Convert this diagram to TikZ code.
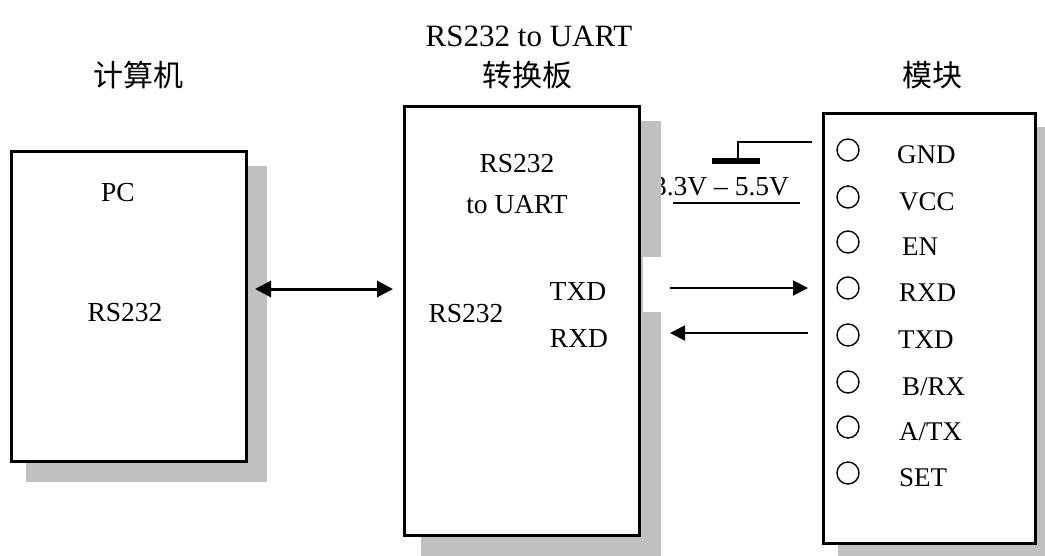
\documentclass[tikz,border=0pt]{standalone}
\usepackage{fontspec}
\setmainfont{Liberation Serif}
\newfontfamily\cjk{Noto Sans CJK SC}
\usetikzlibrary{arrows.meta,calc}
\definecolor{shadowgray}{RGB}{192,192,192}
\begin{document}
\begin{tikzpicture}[x=1pt,y=-1pt,
  box/.style={draw, line width=3pt, inner sep=0pt, fill=white},
  shade/.style={fill=shadowgray},
  txt/.style={font=\fontsize{27.5}{30}\selectfont, inner sep=0pt, anchor=base},
  title/.style={font=\fontsize{31}{34}\selectfont, inner sep=0pt, anchor=base},
  cjktitle/.style={font=\cjk\fontsize{30}{34}\selectfont, inner sep=0pt, anchor=base},
  pinlabel/.style={font=\fontsize{27}{30}\selectfont, inner sep=0pt, anchor=base west},
  pin/.style={draw, circle, line width=1.4pt, minimum size=22pt, inner sep=0pt},
  sig/.style={line width=2pt, -{Triangle[length=15pt,width=15pt]}},
  bus/.style={line width=3pt, {Triangle[length=16pt,width=16pt]}-{Triangle[length=16pt,width=16pt]}},
  wire/.style={line width=1.5pt}]
\useasboundingbox (0,0) rectangle (1045,555);
\clip (0,0) rectangle (1045,555);

% titles
\node[cjktitle] (tpc) at (138,86) {计算机};
\node[title] (tconv) at (529,46) {RS232 to UART};
\node[cjktitle] (tconv2) at (527,86) {转换板};
\node[cjktitle] (tmod) at (932,86) {模块};

% supply label (partly hidden by the shadow)
\node[font=\fontsize{27.5}{30}\selectfont, inner sep=0pt, anchor=base] (vlabel) at (721,195) {3.3V -- 5.5V};

% shadows
\fill[shade] (26,166) rectangle (267,482);
\fill[shade] (421,121) rectangle (661,560);
\fill[shade] (838,127) rectangle (1050,560);

% boxes
\node[box, minimum width=235pt, minimum height=310pt] (pc) at (129,306.5) {};
\node[box, minimum width=235pt, minimum height=429pt] (conv) at (522,321) {};
\node[box, minimum width=212pt, minimum height=430pt] (mod) at (929.5,328.5) {};
\fill[white] (642.6,257) rectangle (663,312);

% PC texts
\node[txt] (pcname) at (118,201) {PC};
\node[txt] (pcrs) at (125,321) {RS232};

% converter texts
\node[txt] (crs1) at (517,172) {RS232};
\node[txt] (cuart) at (517,213) {to UART};
\node[txt] (crs2) at (466,322) {RS232};
\node[txt] (ctxd) at (578,300) {TXD};
\node[txt] (crxd) at (579,347) {RXD};

% module pins
\foreach \n/\y/\lx/\lab in {1/150/897/{GND}, 2/197/899/{VCC}, 3/242/902/{EN}, 4/288/899/{RXD},
                            5/335/898/{TXD}, 6/382/902/{B/RX}, 7/427/899/{A/TX}, 8/473/899/{SET}}{
  \node[pin] (p\n) at (848,\y) {};
  \node[pinlabel] (l\n) at (\lx,\y+13) {\lab};
}

% ground symbol
\node[fill, minimum width=48pt, minimum height=6pt, inner sep=0pt] (gbar) at (736,161) {};
\coordinate (gtop) at (738,142);
\coordinate (gend) at (812,142);
\draw[wire] (gbar.north -| gtop) -- (gtop) -- (gend);

% supply line
\coordinate (vs) at (673,203);
\coordinate (ve) at (800,203);
\draw[wire] (vs) -- (ve);

% RS232 link
\coordinate (busa) at (255,289);
\coordinate (busb) at (393,289);
\draw[bus] (busa) -- (busb);

% UART signals
\coordinate (txa) at (670,288);
\coordinate (txb) at (808,288);
\coordinate (rxa) at (808,333);
\coordinate (rxb) at (670,333);
\draw[sig] (txa) -- (txb);
\draw[sig] (rxa) -- (rxb);
\end{tikzpicture}
\end{document}
